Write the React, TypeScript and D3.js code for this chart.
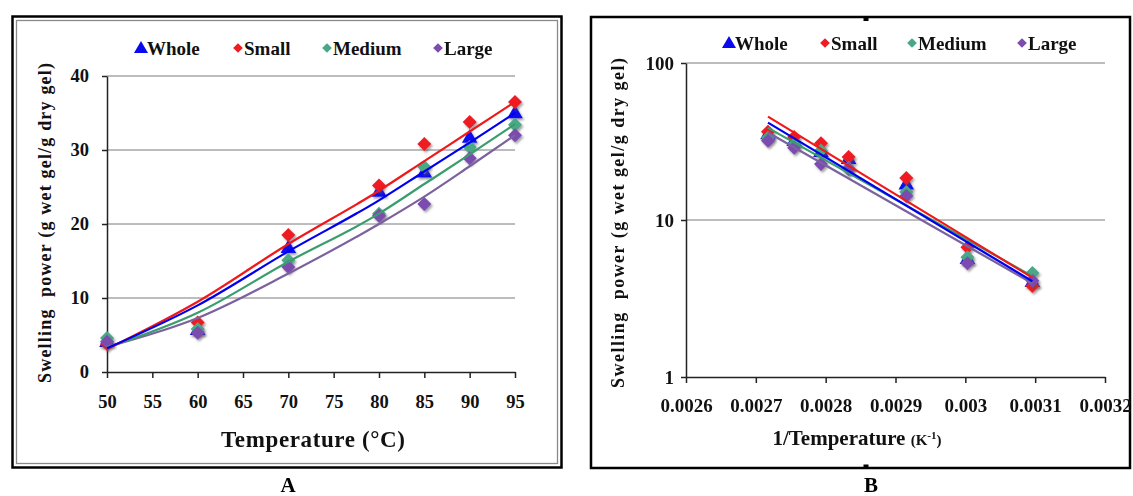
import React, { useRef, useEffect } from "react";
import * as d3 from "d3";

// swelling power (g wet gel / g dry gel) at each temperature (°C)
const temps = [50, 60, 70, 80, 85, 90, 95];
const wholeSP = [4.0, 5.6, 16.7, 24.3, 26.9, 31.6, 34.9];
const smallSP = [3.8, 6.7, 18.5, 25.2, 30.8, 33.8, 36.5];
const mediumSP = [4.6, 5.8, 15.1, 21.4, 27.7, 30.4, 33.4];
const largeSP = [4.1, 5.3, 14.2, 21.1, 22.7, 28.9, 32.0];

const wholeTrendA = [3.2, 9.0, 16.3, 23.2, 27.1, 31.0, 35.0];
const smallTrendA = [3.1, 9.5, 17.3, 24.5, 28.5, 32.5, 36.5];
const mediumTrendA = [3.3, 8.0, 14.9, 21.4, 25.4, 29.4, 33.5];
const largeTrendA = [3.4, 7.3, 13.3, 20.0, 23.7, 27.8, 32.0];

const seriesNames = ["Whole", "Small", "Medium", "Large"];
const xTicksA = [50, 55, 60, 65, 70, 75, 80, 85, 90, 95];
const yTicksA = [0, 10, 20, 30, 40];
const xTicksB = [0.0026, 0.0027, 0.0028, 0.0029, 0.003, 0.0031, 0.0032];
const yTicksB = [1, 10, 100];

const FONT = "'Times New Roman', 'Liberation Serif', serif";

const seriesStyle = [
  { fill: "#0a0af0", line: "#0000ee", symbol: d3.symbolTriangle, size: 105 },
  { fill: "#ee1c24", line: "#f01818", symbol: d3.symbolDiamond2, size: 125 },
  { fill: "#48a886", line: "#3a9d6e", symbol: d3.symbolDiamond2, size: 125 },
  { fill: "#7c4cb0", line: "#7b629f", symbol: d3.symbolDiamond2, size: 125 },
];

const values = [wholeSP, smallSP, mediumSP, largeSP];
const trendsA = [wholeTrendA, smallTrendA, mediumTrendA, largeTrendA];

// exponential least-squares fit (Excel "Exponential" trendline)
function expFit(xs: number[], ys: number[]) {
  const ly = ys.map((v) => Math.log(v));
  const mx = d3.mean(xs) as number;
  const my = d3.mean(ly) as number;
  let sxy = 0;
  let sxx = 0;
  xs.forEach((x, i) => {
    sxy += (x - mx) * (ly[i] - my);
    sxx += (x - mx) * (x - mx);
  });
  const b = sxy / sxx;
  const a = my - b * mx;
  return (x: number) => Math.exp(a + b * x);
}

function drawLegend(g: any, items: number[], y: number) {
  seriesNames.forEach((name, i) => {
    const st = seriesStyle[i];
    const cx = items[i];
    g.append("path")
      .attr("d", d3.symbol().type(st.symbol).size(i === 0 ? 85 : 60)())
      .attr("transform", `translate(${cx},${y + (i === 0 ? 1 : 0)})`)
      .attr("fill", st.fill);
    g.append("text")
      .attr("x", cx + 6)
      .attr("y", y)
      .attr("dy", "0.35em")
      .attr("font-family", FONT)
      .attr("font-weight", "bold")
      .attr("font-size", 19)
      .attr("fill", "#111")
      .text(name);
  });
}

function styleAxis(ax: any, size: number) {
  ax.select(".domain").attr("stroke", "#222").attr("stroke-width", 1.5);
  ax.selectAll(".tick line").attr("stroke", "#222").attr("stroke-width", 1.5);
  ax.selectAll("text")
    .attr("font-family", FONT)
    .attr("font-weight", "bold")
    .attr("font-size", size)
    .attr("fill", "#111");
}

const App = () => {
  const ref = useRef<SVGSVGElement>(null);

  useEffect(() => {
    if (!ref.current) return;
    const svg = d3.select(ref.current);
    svg.selectAll("*").remove();

    const defs = svg.append("defs");
    defs
      .append("filter")
      .attr("id", "shadow")
      .attr("x", "-50%")
      .attr("y", "-50%")
      .attr("width", "200%")
      .attr("height", "200%")
      .append("feDropShadow")
      .attr("dx", 1.5)
      .attr("dy", 2)
      .attr("stdDeviation", 1.3)
      .attr("flood-color", "#555")
      .attr("flood-opacity", 0.55);

    svg.append("rect").attr("width", 1133).attr("height", 496).attr("fill", "#fff");

    // ---------- Panel A ----------
    const gA = svg.append("g");
    gA.append("rect")
      .attr("x", 12.5).attr("y", 16.5).attr("width", 549).attr("height", 451)
      .attr("fill", "none").attr("stroke", "#000").attr("stroke-width", 2.5);
    gA.append("rect")
      .attr("x", 16.5).attr("y", 20.5).attr("width", 541).attr("height", 443)
      .attr("fill", "none").attr("stroke", "#8a8a8a").attr("stroke-width", 1.3);

    const xA = d3.scaleLinear().domain([50, 95]).range([107, 515]);
    const yA = d3.scaleLinear().domain([0, 40]).range([372, 76]);

    gA.append("g")
      .selectAll("line")
      .data(yTicksA.filter((d) => d > 0))
      .enter()
      .append("line")
      .attr("x1", xA(50)).attr("x2", xA(95))
      .attr("y1", (d) => yA(d)).attr("y2", (d) => yA(d))
      .attr("stroke", "#7a7a7a").attr("stroke-width", 1);

    const axA = gA.append("g")
      .attr("transform", `translate(0,${yA(0)})`)
      .call(d3.axisBottom(xA).tickValues(xTicksA).tickSize(6).tickSizeOuter(0).tickPadding(17));
    styleAxis(axA, 18.5);
    const ayA = gA.append("g")
      .attr("transform", `translate(${xA(50)},0)`)
      .call(d3.axisLeft(yA).tickValues(yTicksA).tickSize(5).tickSizeOuter(0).tickPadding(13));
    styleAxis(ayA, 18.5);

    values.forEach((vals, i) => {
      const st = seriesStyle[i];
      gA.append("g")
        .attr("filter", "url(#shadow)")
        .selectAll("path")
        .data(temps.map((t, j) => [t, vals[j]]))
        .enter()
        .append("path")
        .attr("d", d3.symbol().type(st.symbol).size(st.size)())
        .attr("transform", (d) => `translate(${xA(d[0])},${yA(d[1])})`)
        .attr("fill", st.fill);
    });

    const lineA = d3.line<number[]>()
      .x((d) => xA(d[0]))
      .y((d) => yA(d[1]))
      .curve(d3.curveMonotoneX);
    [3, 2, 1, 0].forEach((i) => {
      gA.append("path")
        .attr("d", lineA(temps.map((t, j) => [t, trendsA[i][j]])))
        .attr("fill", "none")
        .attr("stroke", seriesStyle[i].line)
        .attr("stroke-width", 2.2);
    });

    drawLegend(gA.append("g"), [141, 238, 327, 438], 48);

    gA.append("text")
      .attr("x", 313).attr("y", 439).attr("dy", "0.35em")
      .attr("text-anchor", "middle")
      .attr("font-family", FONT).attr("font-weight", "bold").attr("font-size", 23)
      .attr("textLength", 184).attr("lengthAdjust", "spacing")
      .attr("fill", "#111")
      .text("Temperature (°C)");
    gA.append("text")
      .attr("transform", "translate(44.5,223) rotate(-90)")
      .attr("dy", "0.35em")
      .attr("text-anchor", "middle")
      .attr("font-family", FONT).attr("font-weight", "bold").attr("font-size", 18)
      .attr("textLength", 320).attr("lengthAdjust", "spacing")
      .style("white-space", "pre")
      .attr("fill", "#111")
      .text("Swelling  power (g wet gel/g dry gel)");
    svg.append("text")
      .attr("x", 288).attr("y", 485).attr("dy", "0.35em")
      .attr("text-anchor", "middle")
      .attr("font-family", FONT).attr("font-weight", "bold").attr("font-size", 21)
      .text("A");

    // ---------- Panel B ----------
    const gB = svg.append("g");
    gB.append("rect")
      .attr("x", 591).attr("y", 17).attr("width", 539).attr("height", 451)
      .attr("fill", "none").attr("stroke", "#000").attr("stroke-width", 2.5);
    gB.append("rect").attr("x", 863.5).attr("y", 18).attr("width", 5).attr("height", 3).attr("fill", "#000");
    gB.append("rect").attr("x", 863.5).attr("y", 464.5).attr("width", 5).attr("height", 3).attr("fill", "#000");

    const xB = d3.scaleLinear().domain([0.0026, 0.0032]).range([686, 1105]);
    const yB = d3.scaleLog().domain([1, 100]).range([377, 63]);

    gB.append("g")
      .selectAll("line")
      .data(yTicksB.filter((d) => d > 1))
      .enter()
      .append("line")
      .attr("x1", xB(0.0026)).attr("x2", xB(0.0032))
      .attr("y1", (d) => yB(d)).attr("y2", (d) => yB(d))
      .attr("stroke", "#7a7a7a").attr("stroke-width", 1);

    const axB = gB.append("g")
      .attr("transform", `translate(0,${yB(1)})`)
      .call(d3.axisBottom(xB).tickValues(xTicksB).tickSize(6).tickSizeOuter(0).tickPadding(16)
        .tickFormat((d) => String(+(+d).toFixed(4))));
    styleAxis(axB, 19);
    const ayB = gB.append("g")
      .attr("transform", `translate(${xB(0.0026)},0)`)
      .call(d3.axisLeft(yB).tickValues(yTicksB).tickSize(5).tickSizeOuter(0).tickPadding(7)
        .tickFormat((d) => String(d)));
    styleAxis(ayB, 19);

    const invT = temps.map((t) => 1 / (t + 273));
    values.forEach((vals, i) => {
      const st = seriesStyle[i];
      gB.append("g")
        .attr("filter", "url(#shadow)")
        .selectAll("path")
        .data(invT.map((x, j) => [x, vals[j]]))
        .enter()
        .append("path")
        .attr("d", d3.symbol().type(st.symbol).size(st.size)())
        .attr("transform", (d) => `translate(${xB(d[0])},${yB(d[1])})`)
        .attr("fill", st.fill);
    });

    const [xMin, xMax] = d3.extent(invT) as [number, number];
    [3, 2, 0, 1].forEach((i) => {
      const f = expFit(invT, values[i]);
      gB.append("line")
        .attr("x1", xB(xMin)).attr("y1", yB(f(xMin)))
        .attr("x2", xB(xMax)).attr("y2", yB(f(xMax)))
        .attr("stroke", seriesStyle[i].line)
        .attr("stroke-width", 2.2);
    });

    drawLegend(gB.append("g"), [729, 825, 912, 1022], 43);

    const tB = gB.append("text")
      .attr("x", 857).attr("y", 439).attr("dy", "0.35em")
      .attr("text-anchor", "middle")
      .attr("font-family", FONT).attr("font-weight", "bold").attr("fill", "#111");
    tB.append("tspan").attr("font-size", 21).text("1/Temperature ");
    tB.append("tspan").attr("font-size", 15).text("(K");
    tB.append("tspan").attr("font-size", 11).attr("dy", -6).text("-1");
    tB.append("tspan").attr("font-size", 15).attr("dy", 6).text(")");

    gB.append("text")
      .attr("transform", "translate(617.5,223) rotate(-90)")
      .attr("dy", "0.35em")
      .attr("text-anchor", "middle")
      .attr("font-family", FONT).attr("font-weight", "bold").attr("font-size", 18)
      .attr("textLength", 330).attr("lengthAdjust", "spacing")
      .style("white-space", "pre")
      .attr("fill", "#111")
      .text("Swelling  power (g wet gel/g dry gel)");
    svg.append("text")
      .attr("x", 871).attr("y", 485).attr("dy", "0.35em")
      .attr("text-anchor", "middle")
      .attr("font-family", FONT).attr("font-weight", "bold").attr("font-size", 21)
      .text("B");
  }, []);

  return (
    <svg
      ref={ref}
      width={1133}
      height={496}
      style={{ position: "absolute", left: 0, top: 0, display: "block" }}
    />
  );
};

export default App;
